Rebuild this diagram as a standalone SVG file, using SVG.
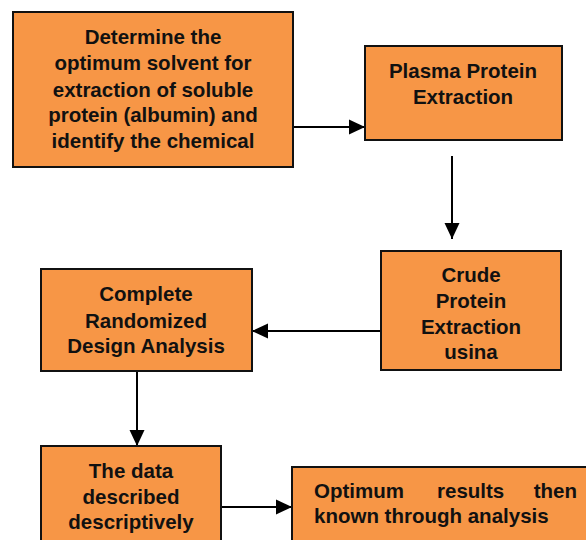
<svg xmlns="http://www.w3.org/2000/svg" width="586" height="540" viewBox="0 0 586 540">
<style>
.box{fill:#F79646;stroke:#111;stroke-width:2}
.t{font-family:"Liberation Sans",Arial,sans-serif;font-weight:bold;font-size:20.5px;fill:#111;text-anchor:middle}
.tl{font-family:"Liberation Sans",Arial,sans-serif;font-weight:bold;font-size:20.5px;fill:#111}
.c{stroke:#000;stroke-width:2;fill:none;marker-end:url(#ah)}
</style>
<defs>
<marker id="ah" markerUnits="userSpaceOnUse" markerWidth="16" markerHeight="16" viewBox="0 0 16 16" refX="16" refY="8" orient="auto">
<path d="M0,0.5 L16,8 L0,15.5 Z" fill="#000"/>
</marker>
</defs>
<rect width="586" height="540" fill="#fff"/>
<g id="connectors">
<line class="c" x1="293" y1="127" x2="365" y2="127"/>
<line class="c" x1="452" y1="156" x2="452" y2="239"/>
<line class="c" x1="381" y1="331" x2="252" y2="331"/>
<line class="c" x1="137" y1="371" x2="137" y2="446"/>
<line class="c" x1="221" y1="507" x2="292" y2="507"/>
</g>
<g id="node1">
<rect class="box" x="13" y="12" width="280" height="155"/>
<text class="t" x="153" y="44">Determine the</text>
<text class="t" x="153" y="70">optimum solvent for</text>
<text class="t" x="153" y="97">extraction of soluble</text>
<text class="t" x="153" y="122">protein (albumin) and</text>
<text class="t" x="153" y="148">identify the chemical</text>
</g>
<g id="node2">
<rect class="box" x="365" y="46" width="197" height="94"/>
<text class="t" x="463" y="78">Plasma Protein</text>
<text class="t" x="463" y="104">Extraction</text>
</g>
<g id="node3">
<rect class="box" x="381" y="251" width="180" height="119"/>
<text class="t" x="471" y="282">Crude</text>
<text class="t" x="471" y="308">Protein</text>
<text class="t" x="471" y="334">Extraction</text>
<text class="t" x="471" y="359">usina</text>
</g>
<g id="node4">
<rect class="box" x="41" y="269" width="211" height="102"/>
<text class="t" x="146" y="301">Complete</text>
<text class="t" x="146" y="328">Randomized</text>
<text class="t" x="146" y="353">Design Analysis</text>
</g>
<g id="node5">
<rect class="box" x="41" y="446" width="180" height="100"/>
<text class="t" x="131" y="478">The data</text>
<text class="t" x="131" y="504">described</text>
<text class="t" x="131" y="529">descriptively</text>
</g>
<g id="node6">
<rect class="box" x="292" y="467" width="300" height="80"/>
<text class="tl" y="498"><tspan x="314">Optimum</tspan><tspan x="437">results</tspan><tspan x="577" text-anchor="end">then</tspan></text>
<text class="tl" x="314" y="523">known through analysis</text>
</g>
</svg>
